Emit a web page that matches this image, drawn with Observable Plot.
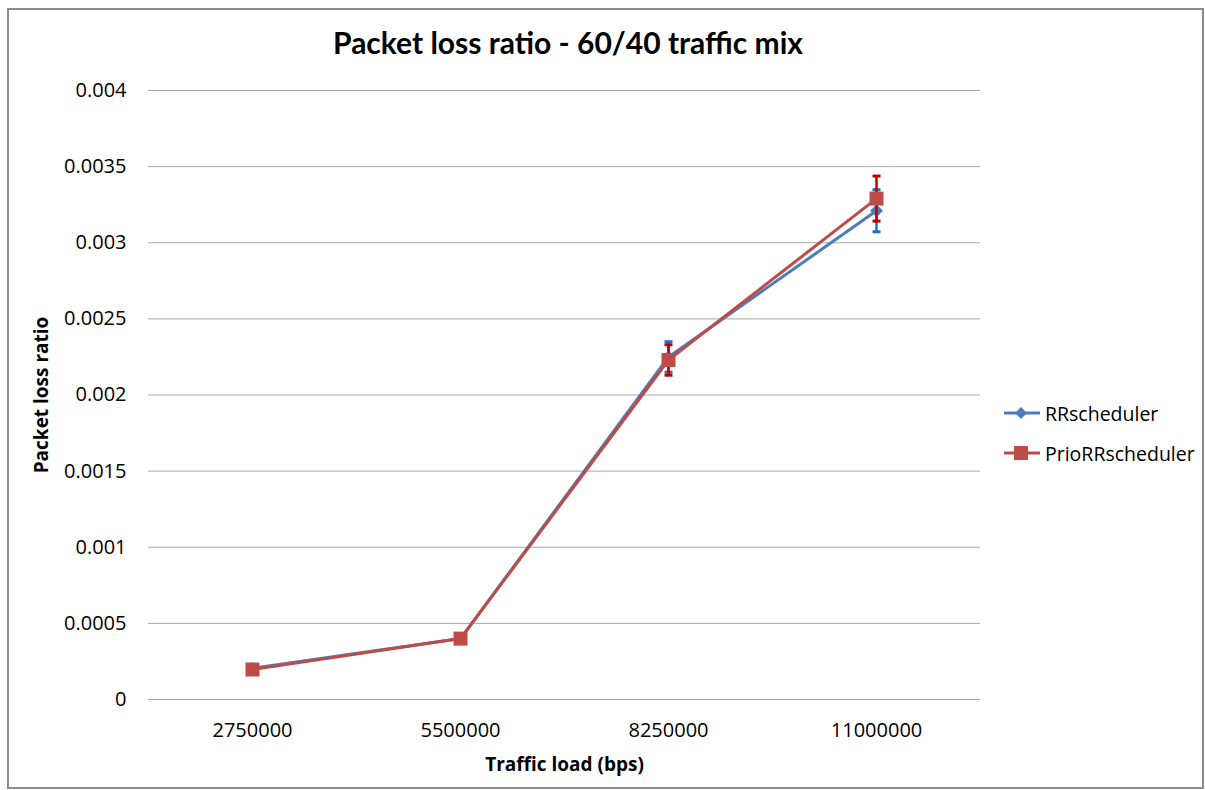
<!DOCTYPE html>
<html>
<head>
<meta charset="utf-8">
<script src="https://cdn.jsdelivr.net/npm/d3@7"></script>
<script src="https://cdn.jsdelivr.net/npm/@observablehq/plot@0.6"></script>
<style>
  body { margin: 0; background: #fff; }
  #chart { position: relative; width: 1205px; height: 790px; overflow: hidden; font-family: "Open Sans", sans-serif; background:#fff; }
  #frame { position: absolute; left: 7px; top: 8px; width: 1197px; height: 781px; border: 2px solid #8c8c8c; box-sizing: border-box; pointer-events: none; }
  #title { position: absolute; left: -68px; top: 24px; width: 1272px; text-align: center; font-family: Lato, sans-serif; font-weight: bold; font-size: 30px; color: #000; white-space: nowrap; }
  #plot { position: absolute; left: 0; top: 0; }
  #legend { position: absolute; left: 1003px; top: 393px; font-size: 19.5px; color: #000; }
  .row { display: flex; align-items: center; height: 40px; }
  .row svg { margin-right: 4px; }
  #plot svg g[aria-label="y-axis label"] text, #plot svg g[aria-label="x-axis label"] text { font-weight: bold; font-size: 19px; }
</style>
</head>
<body>
<div id="chart">
  <div id="plot"></div>
  <div id="title">Packet loss ratio - 60/40 traffic mix</div>
  <div id="legend"></div>
  <div id="frame"></div>
</div>
<script>
// ---- data ----
const categories = ["2750000", "5500000", "8250000", "11000000"];
const seriesNames = ["RRscheduler", "PrioRRscheduler"];
const rrValues = [0.000205, 0.0004, 0.00225, 0.00321];
const rrErrors = [0.000005, 0.000005, 0.0001, 0.000138];
const prioValues = [0.000197, 0.0004, 0.00223, 0.00329];
const prioErrors = [0.000005, 0.000005, 0.0001, 0.000148];
const yTicks = [0, 0.0005, 0.001, 0.0015, 0.002, 0.0025, 0.003, 0.0035, 0.004];

const lineColors = {RRscheduler: "#4a7ebb", PrioRRscheduler: "#be4b48"};
const errColors = {RRscheduler: "#1f6fc5", PrioRRscheduler: "#c00000"};

function rows(name, vals, errs) {
  return categories.map((c, i) => ({series: name, x: c, y: vals[i], lo: vals[i] - errs[i], hi: vals[i] + errs[i]}));
}
const rr = rows("RRscheduler", rrValues, rrErrors);
const prio = rows("PrioRRscheduler", prioValues, prioErrors);

// custom symbols
const squareSym = {draw(ctx, size) { const r = Math.sqrt(size / Math.PI); ctx.rect(-r, -r, 2 * r, 2 * r); }};
const diamondSym = {draw(ctx, size) { const r = Math.sqrt(size / Math.PI); ctx.moveTo(0, -r); ctx.lineTo(r, 0); ctx.lineTo(0, r); ctx.lineTo(-r, 0); ctx.closePath(); }};
const capSym = {draw(ctx, size) { const r = Math.sqrt(size / Math.PI); ctx.moveTo(-r, 0); ctx.lineTo(r, 0); }};

function errMarks(data, color) {
  return [
    Plot.ruleX(data, {x: "x", y1: "lo", y2: "hi", stroke: color, strokeWidth: 2.5}),
    Plot.dot(data, {x: "x", y: "lo", symbol: capSym, r: 4, stroke: color, strokeWidth: 3, fill: "none"}),
    Plot.dot(data, {x: "x", y: "hi", symbol: capSym, r: 4, stroke: color, strokeWidth: 3, fill: "none"})
  ];
}

const chart = Plot.plot({
  width: 1205,
  height: 790,
  marginLeft: 148,
  marginRight: 225,
  marginTop: 90,
  marginBottom: 91,
  style: {fontFamily: "'Open Sans', sans-serif", fontSize: "20px", color: "#000", background: "transparent"},
  x: {type: "point", domain: categories, padding: 0.5},
  y: {domain: [0, 0.004]},
  marks: [
    Plot.ruleY(yTicks, {stroke: "#a6a6a6", strokeWidth: 1}),
    Plot.ruleX([0], {frameAnchor: "left", stroke: "#b3b3b3", strokeWidth: 1.5}),
    Plot.axisY({ticks: yTicks, tickSize: 0, tickPadding: 22, fontSize: 20, tickFormat: d => d === 0 ? "0" : String(+d.toFixed(4)),
      label: "Packet loss ratio", labelAnchor: "center", labelArrow: "none", labelOffset: 114}),
    Plot.axisX({tickSize: 0, tickPadding: 23, fontSize: 20, label: "Traffic load (bps)", labelAnchor: "center", labelArrow: "none", labelOffset: 71}),
    Plot.line(rr, {x: "x", y: "y", stroke: lineColors.RRscheduler, strokeWidth: 3}),
    Plot.line(prio, {x: "x", y: "y", stroke: lineColors.PrioRRscheduler, strokeWidth: 3}),
    ...errMarks(rr, errColors.RRscheduler),
    Plot.dot(rr, {x: "x", y: "y", symbol: diamondSym, r: 6.5, fill: lineColors.RRscheduler, stroke: "none"}),
    ...errMarks(prio, errColors.PrioRRscheduler),
    Plot.dot(prio, {x: "x", y: "y", symbol: squareSym, r: 7, fill: lineColors.PrioRRscheduler, stroke: "none"})
  ]
});
document.getElementById("plot").appendChild(chart);

// legend
const legend = document.getElementById("legend");
seriesNames.forEach(name => {
  const row = document.createElement("div");
  row.className = "row";
  const marker = name === "RRscheduler"
    ? `<path d="M18,12 L24,18 L18,24 L12,18 Z" fill="${lineColors[name]}"/>`
    : `<rect x="11" y="11" width="14" height="14" fill="${lineColors[name]}"/>`;
  row.innerHTML = `<svg width="38" height="36"><line x1="1" y1="18" x2="37" y2="18" stroke="${lineColors[name]}" stroke-width="3"/>${marker}</svg><span>${name}</span>`;
  legend.appendChild(row);
});
</script>
</body>
</html>
